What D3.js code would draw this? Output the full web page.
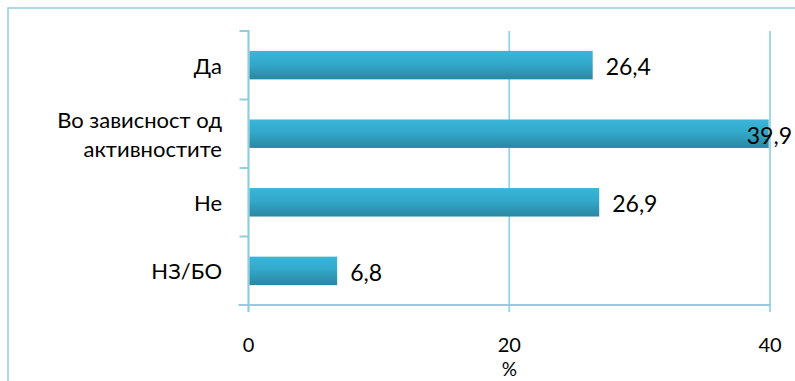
<!DOCTYPE html>
<html><head><meta charset="utf-8">
<script src="https://cdn.jsdelivr.net/npm/d3@7"></script>
<style>
html,body{margin:0;padding:0;background:#fff;overflow:hidden}
svg{display:block}
</style></head>
<body>
<svg id="chart" width="795" height="381"></svg>
<script>
const categories = ["Да", "Во зависност од|активностите", "Не", "НЗ/БО"];
const values = [26.4, 39.9, 26.9, 6.8];
const valueLabels = ["26,4", "39,9", "26,9", "6,8"];
const xTicks = [0, 20, 40];
const xTitle = "%";

const svg = d3.select("#chart");
const W = 795, H = 381;
const plot = {left: 248.5, right: 770, top: 31, bottom: 305};
const axisColor = "#93cddd";
const font = "Lato, 'Open Sans', sans-serif";

const defs = svg.append("defs");
const grad = defs.append("linearGradient").attr("id", "barGrad")
  .attr("x1", 0).attr("y1", 0).attr("x2", 0).attr("y2", 1);
grad.append("stop").attr("offset", "0%").attr("stop-color", "#39b6d9");
grad.append("stop").attr("offset", "45%").attr("stop-color", "#33a8ca");
grad.append("stop").attr("offset", "100%").attr("stop-color", "#2a87a0");

// outer chart border
svg.append("rect").attr("x", 8).attr("y", 8).attr("width", W + 20).attr("height", H + 20)
  .attr("fill", "none").attr("stroke", axisColor).attr("stroke-width", 1.5);

const x = d3.scaleLinear().domain([0, 40]).range([plot.left, plot.right]);
const y = d3.scaleBand().domain(categories).range([plot.top, plot.bottom])
  .paddingInner(0.585).paddingOuter(0.29);
const yEdges = d3.scaleLinear().domain([0, categories.length]).range([plot.top, plot.bottom]);

// gridlines
svg.append("g").selectAll("line").data(xTicks.filter(t => t > 0)).join("line")
  .attr("x1", d => x(d)).attr("x2", d => x(d))
  .attr("y1", plot.top).attr("y2", plot.bottom + 7)
  .attr("stroke", "#9bd2e1").attr("stroke-width", 1.8);

// y axis line + ticks
svg.append("line").attr("x1", plot.left).attr("x2", plot.left)
  .attr("y1", plot.top - 1).attr("y2", plot.bottom + 7)
  .attr("stroke", axisColor).attr("stroke-width", 2.2);
svg.append("g").selectAll("line").data(d3.range(categories.length + 1)).join("line")
  .attr("x1", plot.left - 9).attr("x2", plot.left)
  .attr("y1", d => yEdges(d)).attr("y2", d => yEdges(d))
  .attr("stroke", axisColor).attr("stroke-width", 2);

// x axis line
svg.append("line").attr("x1", plot.left - 10).attr("x2", x(40) + 1)
  .attr("y1", plot.bottom).attr("y2", plot.bottom)
  .attr("stroke", axisColor).attr("stroke-width", 2.2);

// bars
svg.append("g").selectAll("rect").data(values).join("rect")
  .attr("x", x(0) + 1)
  .attr("y", (d, i) => y(categories[i]))
  .attr("width", d => x(d) - x(0) - 1)
  .attr("height", y.bandwidth())
  .attr("fill", "url(#barGrad)");

// value labels
const vl = svg.append("g").selectAll("text").data(values).join("text")
  .attr("font-family", font).attr("font-size", 23).attr("fill", "#000")
  .attr("dominant-baseline", "central")
  .attr("y", (d, i) => y(categories[i]) + y.bandwidth() / 2 + 1)
  .text((d, i) => valueLabels[i]);
vl.each(function(d) {
  const w = this.getComputedTextLength();
  let px = x(d) + 13;
  if (px + w > 792) px = 792 - w;
  d3.select(this).attr("x", px);
});

// category labels
svg.append("g").selectAll("text").data(categories).join("text")
  .attr("font-family", font).attr("font-size", 22).attr("fill", "#000")
  .attr("text-anchor", "end")
  .each(function(c) {
    const lines = c.split("|");
    const cy = y(c) + y.bandwidth() / 2;
    const lh = 29;
    const t = d3.select(this);
    lines.forEach((ln, k) => {
      t.append("tspan").attr("x", 222)
        .attr("y", cy + (k - (lines.length - 1) / 2) * lh)
        .attr("dominant-baseline", "central")
        .text(ln);
    });
  });

// x tick labels
svg.append("g").selectAll("text").data(xTicks).join("text")
  .attr("font-family", font).attr("font-size", 20).attr("fill", "#000")
  .attr("text-anchor", "middle").attr("dominant-baseline", "central")
  .attr("x", d => x(d)).attr("y", 344)
  .text(d => d);

// x axis title
svg.append("text").attr("font-family", font).attr("font-size", 19).attr("fill", "#000")
  .attr("text-anchor", "middle").attr("dominant-baseline", "central")
  .attr("x", x(20)).attr("y", 368.5).text(xTitle);
</script>
</body></html>
